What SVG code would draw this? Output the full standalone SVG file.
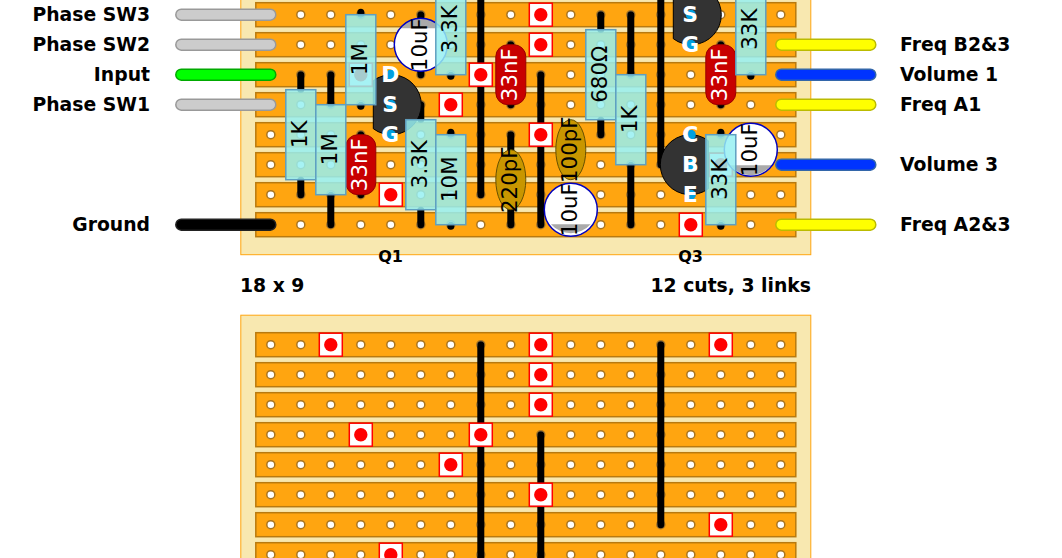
<svg xmlns="http://www.w3.org/2000/svg" width="1062" height="558" viewBox="0 0 1062 558">
<style>
text{font-family:"DejaVu Sans",sans-serif}
.board{fill:#f8e8b0;stroke:#ffa510;stroke-width:1}
.strip{fill:#ffa510;stroke:#b87a10;stroke-width:1.5}
.hole{fill:#fff;stroke:#a87420;stroke-width:1.5}
.cut{fill:#fff;stroke:#f00;stroke-width:1.5}
.dot{fill:#f00}
.link{stroke:#000;stroke-width:7;stroke-linecap:round;fill:none}
.wire{stroke-width:1.5}
.lab{font-weight:bold;font-size:18.8px;fill:#000}
.q{font-weight:bold;font-size:16px;fill:#000;text-anchor:middle}
.res{fill:#96f0f2;fill-opacity:.85;stroke:#5f9fc0;stroke-width:1.5}
.cap{fill:#c80000;stroke:#900;stroke-width:1}
.cer{fill:#c89600;stroke:#665000;stroke-width:1}
.el{fill:#fff}
.elo{fill:none;stroke:#0000c0;stroke-width:1.5}
.gr{fill:#aaa}
.t{font-size:21.33px;fill:#000;text-anchor:middle;dominant-baseline:central}
.tw{font-size:21.33px;fill:#fff;text-anchor:middle;dominant-baseline:central}
.pin{fill:#00a0e0}
.pl{font-weight:bold;font-size:22px;fill:#fff;text-anchor:middle;dominant-baseline:central}
.tr{fill:#333;stroke:#000;stroke-width:1}
</style>
<defs>
<g id="row">
<rect class="strip" x="255.5" y="-12" width="540" height="24"/>
<circle class="hole" cx="270.5" r="4"/><circle class="hole" cx="300.5" r="4"/><circle class="hole" cx="330.5" r="4"/><circle class="hole" cx="360.5" r="4"/><circle class="hole" cx="390.5" r="4"/><circle class="hole" cx="420.5" r="4"/><circle class="hole" cx="450.5" r="4"/><circle class="hole" cx="480.5" r="4"/><circle class="hole" cx="510.5" r="4"/><circle class="hole" cx="540.5" r="4"/><circle class="hole" cx="570.5" r="4"/><circle class="hole" cx="600.5" r="4"/><circle class="hole" cx="630.5" r="4"/><circle class="hole" cx="660.5" r="4"/><circle class="hole" cx="690.5" r="4"/><circle class="hole" cx="720.5" r="4"/><circle class="hole" cx="750.5" r="4"/><circle class="hole" cx="780.5" r="4"/>
</g>
<g id="cut"><rect class="cut" x="-11.5" y="-11.5" width="23" height="23"/><circle class="dot" r="6.7"/></g>
</defs>
<g transform="translate(.3 .2)">
<g id="board-top">
<rect class="board" x="240.5" y="-45" width="570" height="299.5"/>
<use href="#row" y="-15.5"/><use href="#row" y="14.5"/><use href="#row" y="44.5"/><use href="#row" y="74.5"/><use href="#row" y="104.5"/><use href="#row" y="134.5"/><use href="#row" y="164.5"/><use href="#row" y="194.5"/><use href="#row" y="224.5"/>
</g>
<g id="board-bottom">
<rect class="board" x="240.5" y="315" width="570" height="299.5"/>
<use href="#row" y="344.5"/><use href="#row" y="374.5"/><use href="#row" y="404.5"/><use href="#row" y="434.5"/><use href="#row" y="464.5"/><use href="#row" y="494.5"/><use href="#row" y="524.5"/><use href="#row" y="554.5"/>
</g>
<g id="connectors">
<line class="link" x1="480.5" y1="-15" x2="480.5" y2="194.5"/>
<line class="link" x1="540.5" y1="74.5" x2="540.5" y2="224.5"/>
<line class="link" x1="660.5" y1="-15" x2="660.5" y2="164.5"/>
<line class="link" x1="480.5" y1="344.5" x2="480.5" y2="570"/>
<line class="link" x1="540.5" y1="434.5" x2="540.5" y2="570"/>
<line class="link" x1="660.5" y1="344.5" x2="660.5" y2="524.5"/>
<line class="link" x1="300.5" y1="74.5" x2="300.5" y2="89"/>
<line class="link" x1="300.5" y1="180" x2="300.5" y2="194.5"/>
<line class="link" x1="330.5" y1="74.5" x2="330.5" y2="104"/>
<line class="link" x1="330.5" y1="195" x2="330.5" y2="224.5"/>
<line class="link" x1="360.5" y1="12" x2="360.5" y2="14"/>
<line class="link" x1="360.5" y1="105" x2="360.5" y2="106"/>
<line class="link" x1="360.5" y1="134.5" x2="360.5" y2="194.5"/>
<line class="link" x1="420.5" y1="14.5" x2="420.5" y2="74.5"/>
<line class="link" x1="420.5" y1="104.5" x2="420.5" y2="119"/>
<line class="link" x1="420.5" y1="210" x2="420.5" y2="224.5"/>
<line class="link" x1="450.5" y1="75" x2="450.5" y2="76"/>
<line class="link" x1="450.5" y1="132" x2="450.5" y2="134"/>
<line class="link" x1="450.5" y1="225" x2="450.5" y2="226"/>
<line class="link" x1="510.5" y1="44.5" x2="510.5" y2="104.5"/>
<line class="link" x1="510.5" y1="134.5" x2="510.5" y2="224.5"/>
<line class="link" x1="600.5" y1="14.5" x2="600.5" y2="29"/>
<line class="link" x1="600.5" y1="120" x2="600.5" y2="134.5"/>
<line class="link" x1="630.5" y1="14.5" x2="630.5" y2="74"/>
<line class="link" x1="630.5" y1="165" x2="630.5" y2="224.5"/>
<line class="link" x1="720.5" y1="44.5" x2="720.5" y2="104.5"/>
<line class="link" x1="720.5" y1="132" x2="720.5" y2="134"/>
<line class="link" x1="720.5" y1="225" x2="720.5" y2="226"/>
<line class="link" x1="750.5" y1="75" x2="750.5" y2="76"/>
</g>
<g id="cuts">
<use href="#cut" x="540.5" y="14.5"/><use href="#cut" x="540.5" y="44.5"/><use href="#cut" x="360.5" y="74.5"/><use href="#cut" x="480.5" y="74.5"/><use href="#cut" x="450.5" y="104.5"/><use href="#cut" x="540.5" y="134.5"/><use href="#cut" x="390.5" y="194.5"/><use href="#cut" x="720.5" y="164.5"/><use href="#cut" x="690.5" y="224.5"/>
<use href="#cut" x="330.5" y="344.5"/><use href="#cut" x="540.5" y="344.5"/><use href="#cut" x="720.5" y="344.5"/><use href="#cut" x="540.5" y="374.5"/><use href="#cut" x="540.5" y="404.5"/><use href="#cut" x="360.5" y="434.5"/><use href="#cut" x="480.5" y="434.5"/><use href="#cut" x="450.5" y="464.5"/><use href="#cut" x="540.5" y="494.5"/><use href="#cut" x="720.5" y="524.5"/><use href="#cut" x="390.5" y="554.5"/>
</g>
<g id="Q1"><path class="tr" d="M373 80.5A30 30 0 1 1 373 128.5Z"/><circle class="pin" cx="390.5" cy="74.5" r="5"/><circle class="pin" cx="390.5" cy="104.5" r="5"/><circle class="pin" cx="390.5" cy="134.5" r="5"/><text class="pl" x="390" y="74.5">D</text><text class="pl" x="390" y="104.5">S</text><text class="pl" x="390" y="134.5">G</text></g>
<g id="Q2"><path class="tr" d="M673 -9.5A30 30 0 1 1 673 38.5Z"/><circle class="pin" cx="690.5" cy="14.5" r="5"/><circle class="pin" cx="690.5" cy="44.5" r="5"/><text class="pl" x="690" y="14.5">S</text><text class="pl" x="690" y="44.5">G</text></g>
<g id="Q3"><path class="tr" d="M708 140.5A30 30 0 1 0 708 188.5Z"/><circle class="pin" cx="690.5" cy="134.5" r="5"/><circle class="pin" cx="690.5" cy="164.5" r="5"/><circle class="pin" cx="690.5" cy="194.5" r="5"/><text class="pl" x="690" y="134.5">C</text><text class="pl" x="690" y="164.5">B</text><text class="pl" x="690" y="194.5">E</text></g>
<g id="C1"><rect class="cap" x="345.5" y="134.5" width="30" height="60" rx="12"/><text class="tw" transform="translate(359.5 164.5) rotate(-90)">33nF</text></g>
<g id="C2"><rect class="cap" x="495.5" y="44.5" width="30" height="60" rx="12"/><text class="tw" transform="translate(509.5 74.5) rotate(-90)">33nF</text></g>
<g id="C3"><rect class="cap" x="705.5" y="44.5" width="30" height="60" rx="12"/><text class="tw" transform="translate(719.5 74.5) rotate(-90)">33nF</text></g>
<g id="C4"><ellipse class="cer" cx="510.5" cy="179.5" rx="15" ry="30"/><text class="t" transform="translate(509.5 179.5) rotate(-90)">220pF</text></g>
<g id="C5"><ellipse class="cer" cx="570.5" cy="149.5" rx="15" ry="30"/><text class="t" transform="translate(569.5 149.5) rotate(-90)">100pF</text></g>
<g id="E1"><circle class="el" cx="420.5" cy="44.5" r="26.5"/><path class="gr" d="M399.8 28A26.5 26.5 0 0 1 441.2 28Z"/><circle class="elo" cx="420.5" cy="44.5" r="26.5"/><text class="t" transform="translate(419.5 44.5) rotate(-90)">10uF</text></g>
<g id="E2"><circle class="el" cx="570.5" cy="209.5" r="26.5"/><path class="gr" d="M550.7 227.1A26.5 26.5 0 0 0 590.3 227.1Z" transform="translate(0 -3)"/><circle class="elo" cx="570.5" cy="209.5" r="26.5"/><text class="t" transform="translate(569.5 209.5) rotate(-90)">10uF</text></g>
<g id="E3"><circle class="el" cx="750.5" cy="149.5" r="26.5"/><path class="gr" d="M729.8 165A26.5 26.5 0 0 0 771.2 165Z"/><circle class="elo" cx="750.5" cy="149.5" r="26.5"/><text class="t" transform="translate(749.5 149.5) rotate(-90)">10uF</text></g>
<g id="R1"><rect class="res" x="285.5" y="89.5" width="30" height="90"/><text class="t" transform="translate(299.5 134) rotate(-90)">1K</text></g>
<g id="R2"><rect class="res" x="315.5" y="104.5" width="30" height="90"/><text class="t" transform="translate(329.5 149) rotate(-90)">1M</text></g>
<g id="R3"><rect class="res" x="345.5" y="14.5" width="30" height="90"/><text class="t" transform="translate(359.5 59) rotate(-90)">1M</text></g>
<g id="R4"><rect class="res" x="405.5" y="119.5" width="30" height="90"/><text class="t" transform="translate(419.5 164) rotate(-90)">3.3K</text></g>
<g id="R5"><rect class="res" x="435.5" y="134.5" width="30" height="90"/><text class="t" transform="translate(449.5 179) rotate(-90)">10M</text></g>
<g id="R6"><rect class="res" x="435.5" y="-15.5" width="30" height="90"/><text class="t" transform="translate(449.5 29) rotate(-90)">3.3K</text></g>
<g id="R7"><rect class="res" x="585.5" y="29.5" width="30" height="90"/><text class="t" transform="translate(599.5 74) rotate(-90)">680Ω</text></g>
<g id="R8"><rect class="res" x="615.5" y="74.5" width="30" height="90"/><text class="t" transform="translate(629.5 119) rotate(-90)">1K</text></g>
<g id="R9"><rect class="res" x="705.5" y="134.5" width="30" height="90"/><text class="t" transform="translate(719.5 179) rotate(-90)">33K</text></g>
<g id="R10"><rect class="res" x="735.5" y="-15.5" width="30" height="90"/><text class="t" transform="translate(749.5 29) rotate(-90)">33K</text></g>
<g id="wires">
<rect class="wire" x="175.5" y="9" width="100" height="11" rx="5.5" fill="#ccc" stroke="#999"/>
<rect class="wire" x="175.5" y="39" width="100" height="11" rx="5.5" fill="#ccc" stroke="#999"/>
<rect class="wire" x="175.5" y="69" width="100" height="11" rx="5.5" fill="#0f0" stroke="#0a0"/>
<rect class="wire" x="175.5" y="99" width="100" height="11" rx="5.5" fill="#ccc" stroke="#999"/>
<rect class="wire" x="175.5" y="219" width="100" height="11" rx="5.5" fill="#000" stroke="#222"/>
<rect class="wire" x="775.5" y="39" width="100" height="11" rx="5.5" fill="#ff0" stroke="#bb0"/>
<rect class="wire" x="775.5" y="69" width="100" height="11" rx="5.5" fill="#03f" stroke="#36a"/>
<rect class="wire" x="775.5" y="99" width="100" height="11" rx="5.5" fill="#ff0" stroke="#bb0"/>
<rect class="wire" x="775.5" y="159" width="100" height="11" rx="5.5" fill="#03f" stroke="#36a"/>
<rect class="wire" x="775.5" y="219" width="100" height="11" rx="5.5" fill="#ff0" stroke="#bb0"/>
</g>
</g>
<g id="labels">
<text class="lab" text-anchor="end" x="150" y="21">Phase SW3</text>
<text class="lab" text-anchor="end" x="150" y="51">Phase SW2</text>
<text class="lab" text-anchor="end" x="150" y="81">Input</text>
<text class="lab" text-anchor="end" x="150" y="111">Phase SW1</text>
<text class="lab" text-anchor="end" x="150" y="231">Ground</text>
<text class="lab" x="900" y="51">Freq B2&amp;3</text>
<text class="lab" x="900" y="81">Volume 1</text>
<text class="lab" x="900" y="111">Freq A1</text>
<text class="lab" x="900" y="171">Volume 3</text>
<text class="lab" x="900" y="231">Freq A2&amp;3</text>
<text class="q" x="390.5" y="262">Q1</text>
<text class="q" x="690.5" y="262">Q3</text>
<text class="lab" x="240" y="292">18 x 9</text>
<text class="lab" text-anchor="end" x="811" y="292">12 cuts, 3 links</text>
</g>
</svg>
